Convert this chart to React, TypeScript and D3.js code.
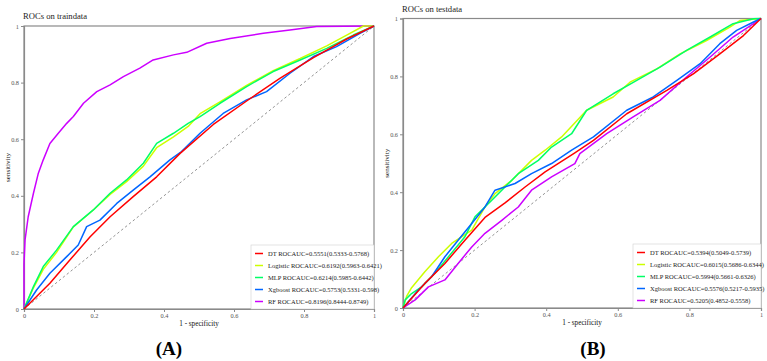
import React, { useEffect, useRef } from 'react'
import * as d3 from 'd3'

type Pt = [number, number]

const modelNames = ['DT', 'Logistic', 'MLP', 'Xgboost', 'RF']
const modelColors = ['#FF0000', '#CCFF00', '#00FF66', '#0066FF', '#CC00FF']
const axisTicks = [0, 0.2, 0.4, 0.6, 0.8, 1]

const trainLabels = [
  'DT ROCAUC=0.5551(0.5333-0.5768)',
  'Logistic ROCAUC=0.6192(0.5963-0.6421)',
  'MLP ROCAUC=0.6214(0.5985-0.6442)',
  'Xgboost ROCAUC=0.5753(0.5331-0.598)',
  'RF ROCAUC=0.8196(0.8444-0.8749)',
]
const testLabels = [
  'DT ROCAUC=0.5394(0.5049-0.5739)',
  'Logistic ROCAUC=0.6015(0.5686-0.6344)',
  'MLP ROCAUC=0.5994(0.5661-0.6326)',
  'Xgboost ROCAUC=0.5576(0.5217-0.5935)',
  'RF ROCAUC=0.5205(0.4852-0.5558)',
]

// train curves (fpr, tpr)
const trainDT: Pt[] = [
  [0, 0], [0.074, 0.091], [0.131, 0.173], [0.189, 0.255], [0.246, 0.326], [0.312, 0.397],
  [0.379, 0.467], [0.446, 0.55], [0.541, 0.652], [0.636, 0.735], [0.731, 0.815],
  [0.827, 0.888], [0.922, 0.954], [1, 1],
]
const trainLogistic: Pt[] = [
  [0, 0], [0.027, 0.075], [0.055, 0.14], [0.093, 0.2], [0.141, 0.29], [0.198, 0.35],
  [0.246, 0.405], [0.293, 0.45], [0.341, 0.505], [0.379, 0.57], [0.427, 0.608], [0.469, 0.645],
  [0.503, 0.69], [0.56, 0.732], [0.636, 0.79], [0.712, 0.842], [0.789, 0.885], [0.865, 0.93],
  [0.922, 0.968], [0.97, 1], [1, 1],
]
const trainMLP: Pt[] = [
  [0, 0], [0.027, 0.079], [0.055, 0.15], [0.093, 0.208], [0.141, 0.291], [0.198, 0.35],
  [0.246, 0.409], [0.293, 0.456], [0.341, 0.515], [0.379, 0.585], [0.427, 0.621], [0.469, 0.656],
  [0.503, 0.68], [0.56, 0.727], [0.636, 0.786], [0.712, 0.839], [0.789, 0.88], [0.865, 0.921],
  [0.941, 0.968], [1, 1],
]
const trainXgboost: Pt[] = [
  [0, 0], [0.036, 0.067], [0.074, 0.126], [0.122, 0.185], [0.155, 0.226], [0.179, 0.291],
  [0.217, 0.314], [0.265, 0.373], [0.312, 0.42], [0.36, 0.467], [0.417, 0.527], [0.45, 0.556],
  [0.503, 0.621], [0.569, 0.691], [0.636, 0.739], [0.693, 0.768], [0.76, 0.833], [0.827, 0.892],
  [0.893, 0.927], [0.96, 0.974], [1, 1],
]
const trainRF: Pt[] = [
  [0, 0], [0, 0.16], [0.003, 0.244], [0.012, 0.326], [0.027, 0.409], [0.041, 0.48], [0.055, 0.527],
  [0.074, 0.585], [0.098, 0.621], [0.122, 0.656], [0.141, 0.68], [0.17, 0.727], [0.208, 0.768],
  [0.246, 0.792], [0.284, 0.821], [0.331, 0.851], [0.369, 0.88], [0.427, 0.898], [0.465, 0.907],
  [0.522, 0.939], [0.589, 0.956], [0.684, 0.974], [0.76, 0.986], [0.836, 0.998], [1, 1],
]

// test curves (fpr, tpr)
const testDT: Pt[] = [
  [0, 0], [0.061, 0.085], [0.117, 0.154], [0.173, 0.234], [0.229, 0.313], [0.285, 0.363],
  [0.341, 0.418], [0.397, 0.47], [0.48, 0.536], [0.532, 0.579], [0.625, 0.671], [0.737, 0.752],
  [0.811, 0.809], [0.885, 0.878], [0.951, 0.941], [1, 1],
]
const testLogistic: Pt[] = [
  [0, 0], [0.01, 0.04], [0.024, 0.07], [0.061, 0.125], [0.099, 0.177], [0.136, 0.223], [0.192, 0.269],
  [0.229, 0.349], [0.257, 0.395], [0.304, 0.441], [0.359, 0.51], [0.397, 0.545], [0.443, 0.591],
  [0.513, 0.683], [0.587, 0.729], [0.634, 0.78], [0.709, 0.826], [0.774, 0.878], [0.848, 0.924],
  [0.913, 0.97], [0.941, 0.993], [1, 1],
]
const testMLP: Pt[] = [
  [0, 0], [0.006, 0.028], [0.024, 0.05], [0.052, 0.073], [0.089, 0.12], [0.127, 0.177],
  [0.173, 0.246], [0.201, 0.315], [0.248, 0.372], [0.285, 0.418], [0.322, 0.464], [0.378, 0.51],
  [0.415, 0.556], [0.471, 0.602], [0.513, 0.683], [0.587, 0.74], [0.653, 0.786], [0.718, 0.832],
  [0.792, 0.89], [0.858, 0.936], [0.922, 0.982], [0.979, 0.999], [1, 1],
]
const testXgboost: Pt[] = [
  [0, 0], [0.043, 0.062], [0.08, 0.108], [0.117, 0.177], [0.154, 0.234], [0.192, 0.292],
  [0.229, 0.349], [0.257, 0.407], [0.313, 0.43], [0.359, 0.464], [0.415, 0.499], [0.471, 0.545],
  [0.532, 0.591], [0.625, 0.683], [0.699, 0.729], [0.765, 0.786], [0.83, 0.844], [0.885, 0.913],
  [0.932, 0.959], [0.979, 0.988], [1, 1],
]
const testRF: Pt[] = [
  [0, 0], [0.034, 0.028], [0.071, 0.073], [0.117, 0.097], [0.154, 0.154], [0.192, 0.211],
  [0.229, 0.258], [0.276, 0.303], [0.322, 0.349], [0.359, 0.407], [0.415, 0.453], [0.48, 0.499],
  [0.494, 0.533], [0.569, 0.602], [0.643, 0.66], [0.718, 0.717], [0.792, 0.798], [0.858, 0.867],
  [0.922, 0.936], [0.979, 0.982], [1, 1],
]

interface PanelProps {
  title: string
  tag: string
  tagX: number
  curves: Pt[][]
  labels: string[]
  left: number
  right: number
  top: number
  bottom: number
  legendLeft: number
}

const FONT = '"Liberation Serif", "Times New Roman", serif'

function RocPanel({ title, tag, tagX, curves, labels, left, right, top, bottom, legendLeft }: PanelProps) {
  const ref = useRef<SVGGElement>(null)

  useEffect(() => {
    if (!ref.current) return
    const g = d3.select(ref.current)
    g.selectAll('*').remove()

    const x = d3.scaleLinear().domain([0, 1]).range([left, right])
    const y = d3.scaleLinear().domain([0, 1]).range([bottom, top])

    // frame
    g.append('rect')
      .attr('x', left)
      .attr('y', top)
      .attr('width', right - left)
      .attr('height', bottom - top)
      .attr('fill', 'none')
      .attr('stroke', '#8a8a8a')
      .attr('stroke-width', 1.2)

    const xAxis = g.append('g')
      .attr('transform', `translate(0,${bottom})`)
      .call(d3.axisBottom(x).tickValues(axisTicks).tickSize(3).tickPadding(2)
        .tickFormat((d) => d3.format('~g')(d as number)))
    const yAxis = g.append('g')
      .attr('transform', `translate(${left},0)`)
      .call(d3.axisLeft(y).tickValues(axisTicks).tickSize(3).tickPadding(2)
        .tickFormat((d) => d3.format('~g')(d as number)))

    for (const ax of [xAxis, yAxis]) {
      ax.select('.domain').attr('stroke', '#8a8a8a').attr('stroke-width', 1.2)
      ax.selectAll('.tick line').attr('stroke', '#8a8a8a')
      ax.selectAll('text')
        .style('font-family', FONT)
        .style('font-size', '6.3px')
        .style('fill', '#555')
    }

    // reference diagonal
    g.append('line')
      .attr('x1', x(0)).attr('y1', y(0))
      .attr('x2', x(1)).attr('y2', y(1))
      .attr('stroke', '#777')
      .attr('stroke-width', 0.8)
      .attr('stroke-dasharray', '2.5,2.5')

    const line = d3.line<Pt>().x((d) => x(d[0])).y((d) => y(d[1]))

    // draw RF first, DT last so red sits on top
    const order = [4, 1, 2, 3, 0]
    order.forEach((i) => {
      g.append('path')
        .datum(curves[i])
        .attr('d', line)
        .attr('fill', 'none')
        .attr('stroke', modelColors[i])
        .attr('stroke-width', 1.5)
        .attr('stroke-linejoin', 'round')
    })

    // legend
    const lgX = legendLeft
    const lgW = right - legendLeft
    const lgY = bottom - 64
    g.append('rect')
      .attr('x', lgX)
      .attr('y', lgY)
      .attr('width', lgW)
      .attr('height', 64)
      .attr('fill', 'white')
      .attr('stroke', '#d0d0d0')
      .attr('stroke-width', 0.6)

    labels.forEach((lab, i) => {
      const yy = lgY + 8.5 + i * 12
      g.append('line')
        .attr('x1', lgX + 4).attr('x2', lgX + 12)
        .attr('y1', yy).attr('y2', yy)
        .attr('stroke', modelColors[i])
        .attr('stroke-width', 1.5)
      g.append('text')
        .attr('x', lgX + 17)
        .attr('y', yy + 2.2)
        .style('font-family', FONT)
        .style('font-size', '6.5px')
        .style('fill', '#222')
        .text(lab)
    })

    g.append('text')
      .attr('x', left - 1)
      .attr('y', top - 7)
      .style('font-family', FONT)
      .style('font-size', '8.6px')
      .style('fill', '#222')
      .text(title)

    g.append('text')
      .attr('x', (left + right) / 2)
      .attr('y', bottom + 17)
      .attr('text-anchor', 'middle')
      .style('font-family', FONT)
      .style('font-size', '7.2px')
      .style('fill', '#111')
      .text('1 - specificity')

    g.append('text')
      .attr('transform', `translate(${left - 14},${(top + bottom) / 2}) rotate(-90)`)
      .attr('text-anchor', 'middle')
      .style('font-family', FONT)
      .style('font-size', '7px')
      .style('fill', '#111')
      .text('sensitivity')

    g.append('text')
      .attr('x', tagX)
      .attr('y', 355)
      .attr('text-anchor', 'middle')
      .style('font-family', FONT)
      .style('font-size', '19px')
      .style('font-weight', 'bold')
      .style('fill', '#000')
      .text(tag)
  }, [title, tag, tagX, curves, labels, left, right, top, bottom, legendLeft])

  return <g ref={ref} />
}

export default function App() {
  return (
    <svg
      width={767}
      height={361}
      style={{ position: 'absolute', left: 0, top: 0, background: 'white' }}
    >
      <RocPanel
        title="ROCs on traindata"
        tag="(A)"
        tagX={169}
        curves={[trainDT, trainLogistic, trainMLP, trainXgboost, trainRF]}
        labels={trainLabels}
        left={24}
        right={374}
        top={26}
        bottom={309}
        legendLeft={251}
      />
      <RocPanel
        title="ROCs on testdata"
        tag="(B)"
        tagX={593}
        curves={[testDT, testLogistic, testMLP, testXgboost, testRF]}
        labels={testLabels}
        left={403}
        right={761}
        top={18.5}
        bottom={308}
        legendLeft={633}
      />
    </svg>
  )
}
